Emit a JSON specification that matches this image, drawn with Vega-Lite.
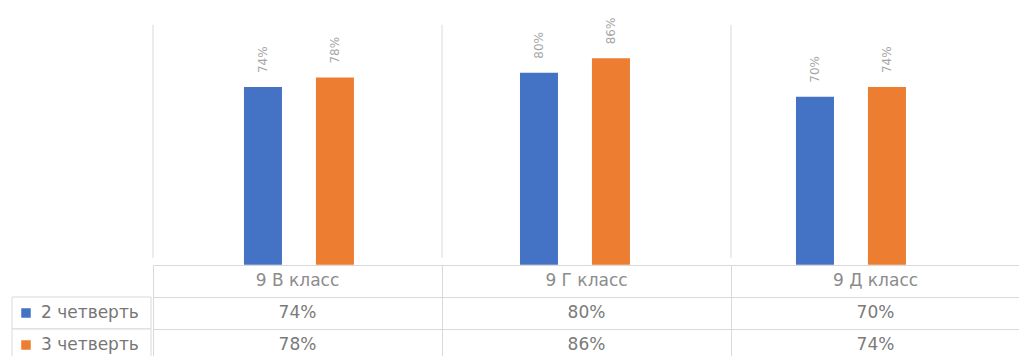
{
  "$schema": "https://vega.github.io/schema/vega-lite/v6.json",
  "padding": {"left": 11, "top": 0, "right": 0, "bottom": 0},
  "background": "white",
  "config": {"view": {"stroke": null}, "font": "DejaVu Sans", "concat": {"spacing": 0}},
  "datasets": {
    "scores": [
      {"class": "9 В класс", "quarter": "2 четверть", "value": 0.74},
      {"class": "9 В класс", "quarter": "3 четверть", "value": 0.78},
      {"class": "9 Г класс", "quarter": "2 четверть", "value": 0.80},
      {"class": "9 Г класс", "quarter": "3 четверть", "value": 0.86},
      {"class": "9 Д класс", "quarter": "2 четверть", "value": 0.70},
      {"class": "9 Д класс", "quarter": "3 четверть", "value": 0.74}
    ]
  },
  "columns": 2,
  "spacing": 0,
  "concat": [
    {
      "width": 139,
      "height": 258,
      "data": {"values": [{}]},
      "mark": {"type": "text"},
      "encoding": {"text": {"value": ""}}
    },
    {
      "width": 867,
      "height": 258,
      "data": {"name": "scores"},
      "resolve": {"scale": {"x": "independent"}},
      "layer": [
        {
          "transform": [{"aggregate": [{"op": "count", "as": "n"}], "groupby": ["class"]}],
          "mark": {"type": "rule", "color": "#d9d9d9", "strokeWidth": 1},
          "encoding": {
            "x": {"field": "class", "type": "nominal", "sort": null, "bandPosition": 0,
                  "scale": {"type": "band", "paddingInner": 0, "paddingOuter": 0}, "axis": null},
            "y": {"datum": 1, "type": "quantitative",
                  "scale": {"domain": [0.028, 1.103], "nice": false, "zero": false}, "axis": null},
            "y2": {"datum": 0.028}
          }
        },
        {
          "layer": [
            {
              "mark": {"type": "bar"},
              "encoding": {
                "x": {"field": "class", "type": "nominal", "sort": null,
                      "scale": {"type": "band", "paddingInner": 0.08, "paddingOuter": 0.1106, "align": 0.311}, "axis": null},
                "xOffset": {"field": "quarter", "type": "nominal", "sort": null,
                            "scale": {"paddingInner": 0.472, "paddingOuter": 1}},
                "y": {"field": "value", "type": "quantitative",
                      "scale": {"domain": [0.028, 1.103], "nice": false, "zero": false}, "axis": null},
                "color": {"field": "quarter", "type": "nominal",
                          "scale": {"domain": ["2 четверть", "3 четверть"], "range": ["#4472C4", "#ED7D31"]},
                          "legend": null}
              }
            },
            {
              "mark": {"type": "text", "angle": 270, "align": "left", "baseline": "middle", "dx": 14,
                       "fontSize": 12, "color": "#a6a6a6"},
              "encoding": {
                "x": {"field": "class", "type": "nominal", "sort": null,
                      "scale": {"type": "band", "paddingInner": 0.08, "paddingOuter": 0.1106, "align": 0.311}, "axis": null},
                "xOffset": {"field": "quarter", "type": "nominal", "sort": null,
                            "scale": {"paddingInner": 0.472, "paddingOuter": 1}},
                "y": {"field": "value", "type": "quantitative"},
                "text": {"field": "value", "type": "quantitative", "format": ".0%"}
              }
            }
          ]
        }
      ]
    },
    {
      "width": 139,
      "height": 96,
      "data": {"name": "scores"},
      "transform": [{"aggregate": [{"op": "count", "as": "n"}], "groupby": ["quarter"]}],
      "layer": [
        {
          "mark": {"type": "rect", "fill": "white", "stroke": "#d9d9d9", "strokeWidth": 1},
          "encoding": {
            "y": {"field": "quarter", "type": "nominal",
                  "scale": {"domain": ["hdr", "2 четверть", "3 четверть"], "paddingInner": 0, "paddingOuter": 0},
                  "axis": null}
          }
        },
        {
          "mark": {"type": "point", "shape": "square", "filled": true, "size": 90, "opacity": 1, "xOffset": -55.5},
          "encoding": {
            "y": {"field": "quarter", "type": "nominal"},
            "color": {"field": "quarter", "type": "nominal",
                      "scale": {"domain": ["2 четверть", "3 четверть"], "range": ["#4472C4", "#ED7D31"]},
                      "legend": null}
          }
        },
        {
          "mark": {"type": "text", "align": "left", "baseline": "middle", "dx": -40.5, "fontSize": 17, "color": "#767676"},
          "encoding": {
            "y": {"field": "quarter", "type": "nominal"},
            "text": {"field": "quarter", "type": "nominal"}
          }
        }
      ]
    },
    {
      "width": 867,
      "height": 96,
      "data": {"name": "scores"},
      "layer": [
        {
          "mark": {"type": "text", "fontSize": 17, "color": "#7a7a7a", "baseline": "middle"},
          "encoding": {
            "x": {"field": "class", "type": "nominal", "sort": null,
                  "scale": {"type": "band", "paddingInner": 0, "paddingOuter": 0},
                  "axis": {"orient": "bottom", "bandPosition": 0, "grid": true, "gridColor": "#d9d9d9",
                           "domain": true, "domainColor": "#d9d9d9", "ticks": false, "labels": false,
                           "title": null, "minExtent": 0, "maxExtent": 0}},
            "y": {"field": "quarter", "type": "nominal",
                  "scale": {"type": "band", "domain": ["hdr", "2 четверть", "3 четверть"], "paddingInner": 0, "paddingOuter": 0},
                  "axis": {"bandPosition": 0, "grid": true, "gridColor": "#d9d9d9", "domain": false,
                           "ticks": false, "labels": false, "title": null, "minExtent": 0, "maxExtent": 0}},
            "text": {"field": "value", "type": "quantitative", "format": ".0%"}
          }
        },
        {
          "transform": [{"aggregate": [{"op": "count", "as": "n"}], "groupby": ["class"]}],
          "mark": {"type": "text", "fontSize": 17, "color": "#8c8c8c", "baseline": "middle"},
          "encoding": {
            "x": {"field": "class", "type": "nominal", "sort": null},
            "y": {"datum": "hdr", "type": "nominal"},
            "text": {"field": "class", "type": "nominal"}
          }
        }
      ]
    }
  ]
}
